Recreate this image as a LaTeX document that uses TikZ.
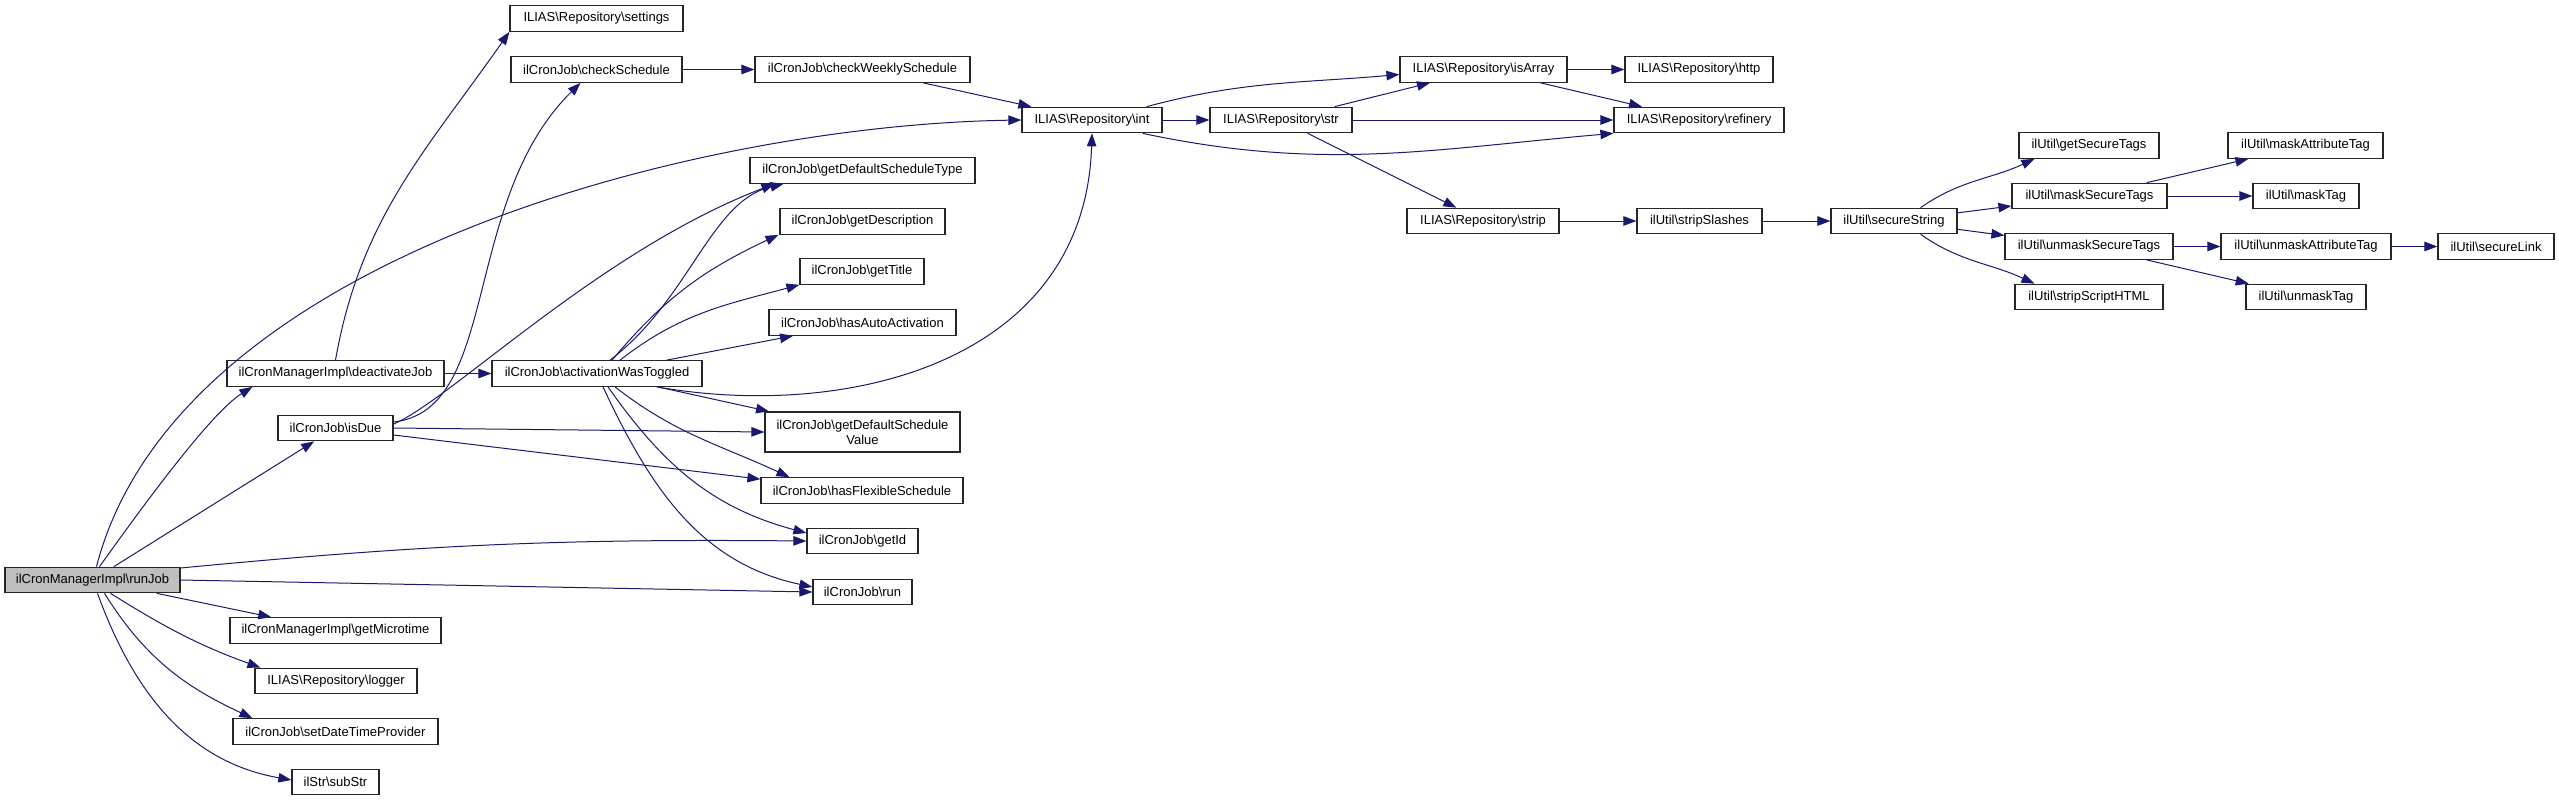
\documentclass[tikz,border=0pt]{standalone}
\usepackage{fontspec}
\newfontfamily\graphfont{Liberation Sans}
\usetikzlibrary{arrows.meta}
\definecolor{edgeblue}{HTML}{191970}
\newcommand{\bsl}{\textbackslash}
\tikzset{
	fn/.style={draw=black!85, line width=1.2pt, minimum height=25.5pt, inner sep=0pt, align=center, font={\graphfont\fontsize{13}{15}\selectfont}},
	call/.style={draw=edgeblue, line width=1pt, -{Triangle[length=13pt,width=9.5pt]}},
}
\begin{document}
\begin{tikzpicture}[x=1pt,y=1pt]
		\useasboundingbox (0,0) rectangle (2559,-801);

		% caller and its direct calls
		\node [fn, fill=black!25, minimum width=175pt] (runJob) at (92.5,-580) {ilCronManagerImpl\bsl{}runJob};
		\node [fn, minimum width=217pt] (deactivateJob) at (335.5,-373.5) {ilCronManagerImpl\bsl{}deactivateJob};
		\node [fn, minimum width=115pt] (isDue) at (335.5,-428) {ilCronJob\bsl{}isDue};
		\node [fn, minimum width=211pt] (getMicrotime) at (335.5,-630.5) {ilCronManagerImpl\bsl{}getMicrotime};
		\node [fn, minimum width=162pt] (logger) at (336,-681) {ILIAS\bsl{}Repository\bsl{}logger};
		\node [fn, minimum width=205pt] (setDateTimeProvider) at (335.5,-731.5) {ilCronJob\bsl{}setDateTimeProvider};
		\node [fn, minimum width=87pt] (subStr) at (335.5,-782) {ilStr\bsl{}subStr};

		\node [fn, minimum width=173pt] (settings) at (596.5,-18.5) {ILIAS\bsl{}Repository\bsl{}settings};
		\node [fn, minimum width=171pt] (checkSchedule) at (596.5,-69.5) {ilCronJob\bsl{}checkSchedule};
		\node [fn, minimum width=210pt] (activationWasToggled) at (597,-373.5) {ilCronJob\bsl{}activationWasToggled};

		\node [fn, minimum width=215pt] (checkWeeklySchedule) at (862.5,-69.5) {ilCronJob\bsl{}checkWeeklySchedule};
		\node [fn, minimum width=225pt] (getDefaultScheduleType) at (862.5,-170.5) {ilCronJob\bsl{}getDefaultScheduleType};
		\node [fn, minimum width=165pt] (getDescription) at (862.5,-221.5) {ilCronJob\bsl{}getDescription};
		\node [fn, minimum width=124pt] (getTitle) at (862,-271.5) {ilCronJob\bsl{}getTitle};
		\node [fn, minimum width=187pt] (hasAutoActivation) at (862.5,-322.5) {ilCronJob\bsl{}hasAutoActivation};
		\node [fn, minimum width=195pt, minimum height=40pt] (getDefaultScheduleValue) at (862.5,-432) {ilCronJob\bsl{}getDefaultSchedule\\Value};
		\node [fn, minimum width=202pt] (hasFlexibleSchedule) at (862,-490.5) {ilCronJob\bsl{}hasFlexibleSchedule};
		\node [fn, minimum width=111pt] (getId) at (862.5,-541) {ilCronJob\bsl{}getId};
		\node [fn, minimum width=99pt] (run) at (862.5,-592) {ilCronJob\bsl{}run};

		% repository helpers
		\node [fn, minimum width=140pt] (int) at (1092,-120) {ILIAS\bsl{}Repository\bsl{}int};
		\node [fn, minimum width=142pt] (str) at (1281,-120) {ILIAS\bsl{}Repository\bsl{}str};
		\node [fn, minimum width=167pt] (isArray) at (1483.5,-69.5) {ILIAS\bsl{}Repository\bsl{}isArray};
		\node [fn, minimum width=152pt] (strip) at (1483,-221) {ILIAS\bsl{}Repository\bsl{}strip};
		\node [fn, minimum width=148pt] (http) at (1699,-69.5) {ILIAS\bsl{}Repository\bsl{}http};
		\node [fn, minimum width=170pt] (refinery) at (1699,-120) {ILIAS\bsl{}Repository\bsl{}refinery};
		\node [fn, minimum width=125pt] (stripSlashes) at (1699.5,-221) {ilUtil\bsl{}stripSlashes};

		% ilUtil
		\node [fn, minimum width=126pt] (secureString) at (1894,-221) {ilUtil\bsl{}secureString};
		\node [fn, minimum width=140pt] (getSecureTags) at (2089,-145.5) {ilUtil\bsl{}getSecureTags};
		\node [fn, minimum width=155pt] (maskSecureTags) at (2089.5,-196) {ilUtil\bsl{}maskSecureTags};
		\node [fn, minimum width=168pt] (unmaskSecureTags) at (2089,-246.5) {ilUtil\bsl{}unmaskSecureTags};
		\node [fn, minimum width=148pt] (stripScriptHTML) at (2089,-297) {ilUtil\bsl{}stripScriptHTML};
		\node [fn, minimum width=155pt] (maskAttributeTag) at (2305.5,-145.5) {ilUtil\bsl{}maskAttributeTag};
		\node [fn, minimum width=106pt] (maskTag) at (2306,-196) {ilUtil\bsl{}maskTag};
		\node [fn, minimum width=170pt] (unmaskAttributeTag) at (2306,-246.5) {ilUtil\bsl{}unmaskAttributeTag};
		\node [fn, minimum width=120pt] (unmaskTag) at (2306,-297) {ilUtil\bsl{}unmaskTag};
		\node [fn, minimum width=116pt] (secureLink) at (2496,-246.5) {ilUtil\bsl{}secureLink};

		% calls from runJob
		\draw [call] ([xshift=4pt]runJob.north) .. controls +(80,310) and +(-322,-5) .. (int.west);
		\draw [call] ([xshift=7pt]runJob.north) .. controls +(50,70) and +(-40,-25) .. ([xshift=26pt]deactivateJob.south west);
		\draw [call] (runJob) -- (isDue);
		\draw [call] ([yshift=12pt]runJob.east) to [bend left=3] (getId.west);
		\draw [call] (runJob.east) -- (run.west);
		\draw [call] (runJob) -- (getMicrotime);
		\draw [call] ([xshift=18pt]runJob.south) to [out=-32, in=160] ([xshift=6pt]logger.north west);
		\draw [call] ([xshift=12pt]runJob.south) to [out=-58, in=155] ([xshift=20pt]setDateTimeProvider.north west);
		\draw [call] ([xshift=5pt]runJob.south) to [out=-70, in=170] ([yshift=2pt]subStr.west);

		\draw [call] (deactivateJob.north) to [out=80, in=-125] (settings.south west);
		\draw [call] (deactivateJob) -- (activationWasToggled);

		% calls from isDue
		\draw [call] ([yshift=6pt]isDue.east) .. controls +(107,12) and +(-120,-118) .. ([xshift=-16pt]checkSchedule.south);
		\draw [call] ([yshift=4pt]isDue.east) .. controls +(57,24) and +(-175,-67) .. ([xshift=-88pt]getDefaultScheduleType.south);
		\draw [call] (isDue.east) -- (getDefaultScheduleValue.west);
		\draw [call] ([yshift=-7pt]isDue.east) -- ([yshift=-2pt]hasFlexibleSchedule.north west);

		% calls from activationWasToggled
		\draw [call] ([xshift=13pt]activationWasToggled.north) .. controls +(80,61) and +(-73,-17) .. ([xshift=-79pt]getDefaultScheduleType.south);
		\draw [call] ([xshift=15pt]activationWasToggled.north) to [out=50, in=-155] ([xshift=-84pt]getDescription.south);
		\draw [call] ([xshift=23pt]activationWasToggled.north) to [out=38, in=-165] (getTitle.south west);
		\draw [call] (activationWasToggled) -- (hasAutoActivation);
		\draw [call] ([xshift=-46pt]activationWasToggled.south east) .. controls +(194,-34) and +(-7,-227) .. (int.south);
		\draw [call] (activationWasToggled) -- (getDefaultScheduleValue);
		\draw [call] ([xshift=18pt]activationWasToggled.south) to [out=-38, in=155] ([xshift=29pt]hasFlexibleSchedule.north west);
		\draw [call] ([xshift=11pt]activationWasToggled.south) to [out=-55, in=165] ([yshift=8pt]getId.west);
		\draw [call] ([xshift=6pt]activationWasToggled.south) to [out=-65, in=168] ([yshift=5pt]run.west);

		\draw [call] (checkSchedule) -- (checkWeeklySchedule);
		\draw [call] (checkWeeklySchedule) -- (int);

		% repository
		\draw [call] (int) -- (str);
		\draw [call] ([xshift=-16pt]int.north east) to [out=15, in=-175] ([yshift=-5pt]isArray.west);
		\draw [call] ([xshift=-20pt]int.south east) to [out=-12, in=-175] (refinery.south west);
		\draw [call] (str) -- (isArray);
		\draw [call] (str) -- (refinery);
		\draw [call] (str) -- (strip);
		\draw [call] (isArray) -- (http);
		\draw [call] (isArray) -- (refinery);
		\draw [call] (strip) -- (stripSlashes);
		\draw [call] (stripSlashes) -- (secureString);

		% secureString
		\draw [call] ([xshift=-37pt]secureString.north east) to [out=35, in=-155] ([xshift=16pt]getSecureTags.south west);
		\draw [call] (secureString) -- (maskSecureTags);
		\draw [call] (secureString) -- (unmaskSecureTags);
		\draw [call] ([xshift=-37pt]secureString.south east) to [out=-35, in=155] ([xshift=20pt]stripScriptHTML.north west);
		\draw [call] (maskSecureTags) -- (maskAttributeTag);
		\draw [call] (maskSecureTags) -- (maskTag);
		\draw [call] (unmaskSecureTags) -- (unmaskAttributeTag);
		\draw [call] (unmaskSecureTags) -- (unmaskTag);
		\draw [call] (unmaskAttributeTag) -- (secureLink);
	\end{tikzpicture}
\end{document}
